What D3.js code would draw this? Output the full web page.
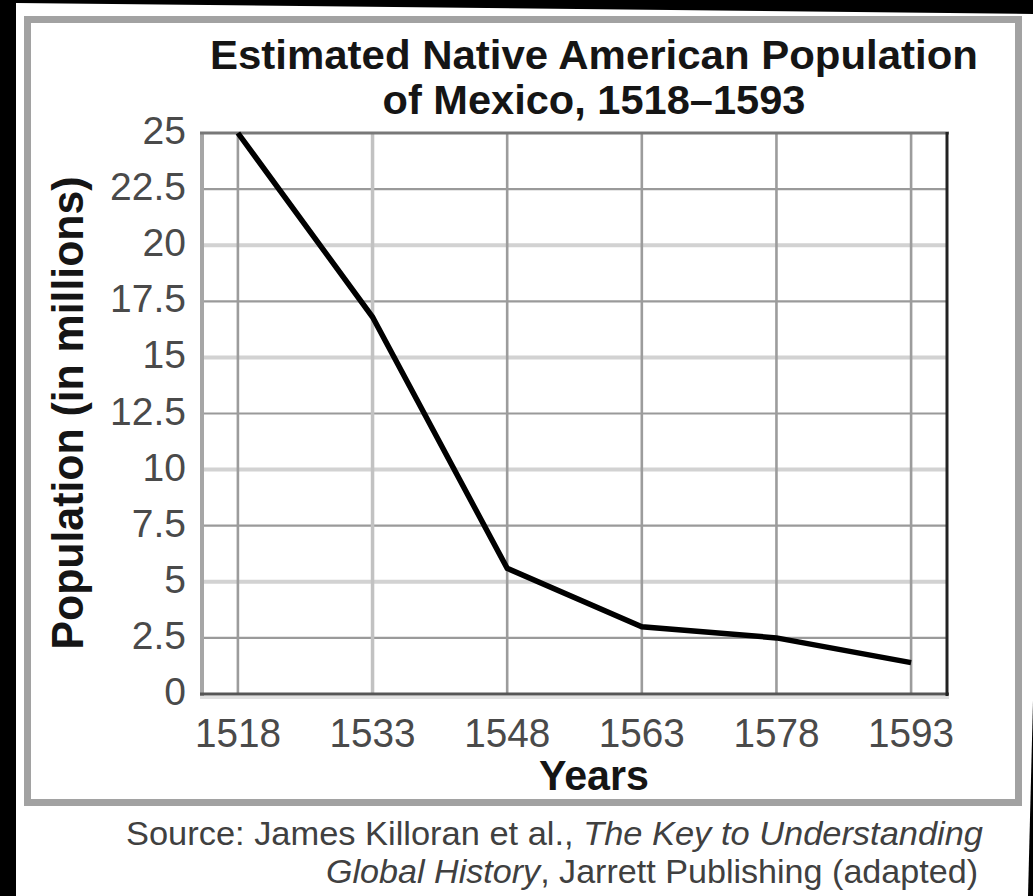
<!DOCTYPE html>
<html>
<head>
<meta charset="utf-8">
<script src="https://cdn.jsdelivr.net/npm/d3@7"></script>
<style>
  html, body { margin: 0; padding: 0; background: #000; }
  svg { display: block; }
  text { font-family: "Liberation Sans", Arial, Helvetica, sans-serif; }
</style>
</head>
<body>
<svg id="chart" width="1033" height="896"></svg>
<script>
// ---- data ----
const years = [1518, 1533, 1548, 1563, 1578, 1593];
const population = [25, 16.8, 5.6, 3.0, 2.5, 1.4];
const yTicks = [0, 2.5, 5, 7.5, 10, 12.5, 15, 17.5, 20, 22.5, 25];
const yTickLabels = ["0", "2.5", "5", "7.5", "10", "12.5", "15", "17.5", "20", "22.5", "25"];
const titleLines = ["Estimated Native American Population", "of Mexico, 1518\u20131593"];
const xTitle = "Years";
const yTitle = "Population (in millions)";

const svg = d3.select("#chart");

// paper background (slightly skewed photo of page)
svg.append("rect").attr("x", 0).attr("y", 0).attr("width", 1033).attr("height", 896).attr("fill", "#000");
svg.append("polygon")
  .attr("points", "16,3 1033,14 1033,700 1028,896 16,896")
  .attr("fill", "#fff");

// outer gray frame
svg.append("rect")
  .attr("x", 27.5).attr("y", 19.5).attr("width", 991).attr("height", 783)
  .attr("fill", "none").attr("stroke", "#a2a2a2").attr("stroke-width", 7);

// scales
const x = d3.scaleLinear().domain([1514, 1597]).range([202, 947]);
const y = d3.scaleLinear().domain([0, 25]).range([694, 133]);

// horizontal grid
const hGrid = yTicks.filter(v => v > 0 && v < 25);
svg.append("g").selectAll("line").data(hGrid).join("line")
  .attr("x1", x.range()[0]).attr("x2", x.range()[1])
  .attr("y1", d => y(d)).attr("y2", d => y(d))
  .attr("stroke", d => (d % 5 === 0) ? "#d2d2d2" : "#9a9a9a")
  .attr("stroke-width", d => (d % 5 === 0) ? 4 : 2.2);

// vertical grid
svg.append("g").selectAll("line").data(years).join("line")
  .attr("x1", d => x(d)).attr("x2", d => x(d))
  .attr("y1", y.range()[1]).attr("y2", y.range()[0])
  .attr("stroke", (d, i) => i === 1 ? "#c2c2c2" : "#9c9c9c")
  .attr("stroke-width", (d, i) => i === 1 ? 3.5 : 2.6);

// frame of plot
svg.append("line").attr("x1", 202).attr("x2", 202).attr("y1", 132).attr("y2", 696)
  .attr("stroke", "#a6a6a6").attr("stroke-width", 4);
svg.append("line").attr("x1", 200).attr("x2", 949).attr("y1", 133).attr("y2", 133)
  .attr("stroke", "#787878").attr("stroke-width", 3);
svg.append("line").attr("x1", 200).attr("x2", 949).attr("y1", 697.5).attr("y2", 697.5)
  .attr("stroke", "#e0e0e0").attr("stroke-width", 3);
svg.append("line").attr("x1", 200).attr("x2", 949).attr("y1", 694).attr("y2", 694)
  .attr("stroke", "#555").attr("stroke-width", 3);
svg.append("line").attr("x1", 947).attr("x2", 947).attr("y1", 132).attr("y2", 696)
  .attr("stroke", "#222").attr("stroke-width", 3);

// data line
const pts = years.map((yr, i) => [yr, population[i]]);
svg.append("path")
  .datum(pts)
  .attr("d", d3.line().x(d => x(d[0])).y(d => y(d[1])))
  .attr("fill", "none").attr("stroke", "#000").attr("stroke-width", 5.5)
  .attr("stroke-linejoin", "miter");

// y tick labels
svg.append("g").selectAll("text").data(yTicks).join("text")
  .attr("x", 186).attr("y", d => y(d) + 11)
  .attr("text-anchor", "end")
  .attr("font-size", 39).attr("fill", "#4a4a4a")
  .text((d, i) => yTickLabels[i]);

// x tick labels
svg.append("g").selectAll("text").data(years).join("text")
  .attr("x", d => x(d)).attr("y", 747)
  .attr("text-anchor", "middle")
  .attr("font-size", 40).attr("fill", "#4a4a4a")
  .attr("textLength", 86).attr("lengthAdjust", "spacingAndGlyphs")
  .text(d => String(d));

// title
svg.append("text").attr("x", 594).attr("y", 69).attr("text-anchor", "middle")
  .attr("font-size", 40).attr("font-weight", "bold").attr("fill", "#151515")
  .attr("textLength", 768).attr("lengthAdjust", "spacingAndGlyphs")
  .text(titleLines[0]);
svg.append("text").attr("x", 594).attr("y", 114).attr("text-anchor", "middle")
  .attr("font-size", 40).attr("font-weight", "bold").attr("fill", "#151515")
  .attr("textLength", 423).attr("lengthAdjust", "spacingAndGlyphs")
  .text(titleLines[1]);

// axis titles
svg.append("text").attr("x", 594).attr("y", 790).attr("text-anchor", "middle")
  .attr("font-size", 43).attr("font-weight", "bold").attr("fill", "#151515")
  .attr("textLength", 110).attr("lengthAdjust", "spacingAndGlyphs")
  .text(xTitle);
svg.append("text")
  .attr("transform", "translate(83,413) rotate(-90)")
  .attr("text-anchor", "middle")
  .attr("font-size", 45).attr("font-weight", "bold").attr("fill", "#151515")
  .attr("textLength", 473).attr("lengthAdjust", "spacingAndGlyphs")
  .text(yTitle);

// source
const s1 = svg.append("text").attr("x", 126).attr("y", 845)
  .attr("font-size", 33).attr("fill", "#404040")
  .attr("textLength", 857).attr("lengthAdjust", "spacingAndGlyphs");
s1.append("tspan").text("Source: James Killoran et al., ");
s1.append("tspan").attr("font-style", "italic").text("The Key to Understanding");
const s2 = svg.append("text").attr("x", 326).attr("y", 882.5)
  .attr("font-size", 33).attr("fill", "#404040")
  .attr("textLength", 652).attr("lengthAdjust", "spacingAndGlyphs");
s2.append("tspan").attr("font-style", "italic").text("Global History");
s2.append("tspan").text(", Jarrett Publishing (adapted)");
</script>
</body>
</html>
